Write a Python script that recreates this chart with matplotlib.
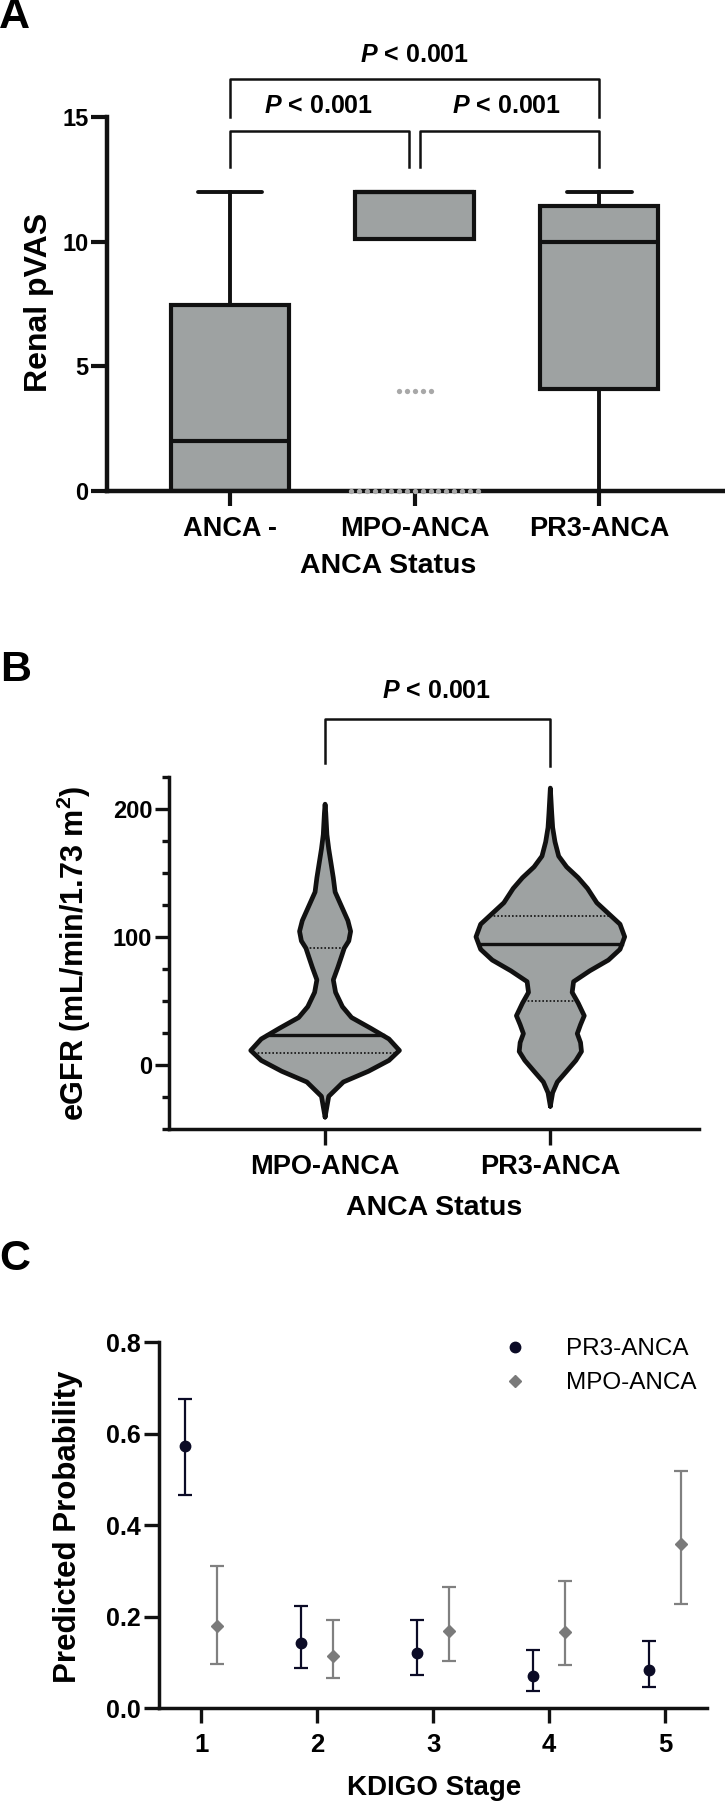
import matplotlib
matplotlib.use('Agg')
import matplotlib.pyplot as plt
from matplotlib.ticker import FixedLocator
import numpy as np

plt.rcParams['font.family'] = ['Liberation Sans', 'DejaVu Sans']
plt.rcParams['font.weight'] = 'bold'
plt.rcParams['mathtext.fontset'] = 'custom'
plt.rcParams['mathtext.rm'] = 'Liberation Sans'
plt.rcParams['mathtext.it'] = 'Liberation Sans:italic'
plt.rcParams['mathtext.bf'] = 'Liberation Sans:bold'
plt.rcParams['mathtext.bfit'] = 'Liberation Sans:italic:bold'

# ---- Panel A data: renal pVAS by ANCA status ----
groups_a = ['ANCA -', 'MPO-ANCA', 'PR3-ANCA']
a_q1 = [0, 10.1, 4.1]
a_med = [2, 12, 10]
a_q3 = [7.45, 12, 11.45]
a_low = [0, 10.1, 0]
a_high = [12, 12, 12]
mpo_outliers = [4, 4, 4, 4, 4] + [0] * 17

# ---- Panel B data: eGFR violins (outline) ----
groups_b = ['MPO-ANCA', 'PR3-ANCA']
mpo_y = [-41, -24.7, -13.5, -5.1, 3.4, 11.2, 20.2, 28.6, 37.0, 45.5, 56.7, 66.5,
         76.3, 84.8, 91.3, 97, 104.5, 112.9, 124.1, 135.3, 146.5, 157.8, 169, 180.3, 197.1, 204.1]
mpo_w = [0, 8, 40, 95, 140, 163, 140, 100, 58, 38, 23, 18,
         28, 36, 42, 52, 56, 50, 36, 22, 18, 13, 8, 4, 1.5, 0]
pr3_y = [-32.5, -21.9, -13.5, -5.1, 3.4, 10.4, 17.4, 24.4, 31.4, 38.4, 48.3, 56.7, 65.1,
         73.6, 82, 90.4, 100.2, 110.1, 118.5, 126.9, 138.1, 146.5, 155, 163.4, 174.6, 185.8, 197.1, 216.7]
pr3_w = [0, 5, 15, 35, 55, 67, 65, 58, 65, 73, 60, 47, 50,
         85, 125, 150, 160, 150, 125, 100, 80, 60, 35, 18, 10, 5, 3, 0]
b_med = [23, 94.6]
b_q1 = [9, 50]
b_q3 = [91.3, 116.5]

# ---- Panel C data: predicted probability by KDIGO stage ----
stages = [1, 2, 3, 4, 5]
pr3_prob = [0.573, 0.143, 0.121, 0.071, 0.084]
pr3_lo = [0.466, 0.089, 0.074, 0.037, 0.047]
pr3_hi = [0.675, 0.223, 0.193, 0.128, 0.147]
mpo_prob = [0.180, 0.114, 0.169, 0.167, 0.359]
mpo_lo = [0.097, 0.066, 0.104, 0.095, 0.227]
mpo_hi = [0.311, 0.193, 0.265, 0.278, 0.518]

box_gray = '#9ea2a2'
ink = '#111111'
W, H = 725, 1803

fig = plt.figure(figsize=(W / 100, H / 100), dpi=100)


def axes_px(left, top, right, bottom):
    return fig.add_axes([left / W, 1 - bottom / H, (right - left) / W, (bottom - top) / H])


def style_axes(ax, lw):
    for s in ['top', 'right']:
        ax.spines[s].set_visible(False)
    for s in ['left', 'bottom']:
        ax.spines[s].set_linewidth(lw)
        ax.spines[s].set_color(ink)
        ax.spines[s].set_capstyle('projecting')


# ================= Panel A =================
ax = axes_px(107, 117, 725, 491)
stats = []
for i in range(3):
    stats.append(dict(med=a_med[i], q1=a_q1[i], q3=a_q3[i], whislo=a_low[i], whishi=a_high[i]))
ax.bxp(stats, positions=[0, 1, 2], widths=0.64, patch_artist=True, showfliers=False,
       capwidths=0.35,
       boxprops=dict(facecolor=box_gray, edgecolor=ink, linewidth=3.0),
       medianprops=dict(color=ink, linewidth=3.0),
       whiskerprops=dict(color=ink, linewidth=2.8),
       capprops=dict(color=ink, linewidth=2.8, solid_capstyle='round'))

# outliers drawn spread sideways, like the original
vals, counts = np.unique(mpo_outliers, return_counts=True)
for v, n in zip(vals, counts):
    xs = 1 + (np.arange(n) - (n - 1) / 2) * 0.043
    ax.plot(xs, [v] * n, 'o', color='#a8a8a8', markersize=3.8, markeredgewidth=0,
            clip_on=False, zorder=5)

ax.set_xlim(-0.665, 2.68)
ax.set_ylim(0, 15)
ax.set_yticks([0, 5, 10, 15])
ax.set_xticks([0, 1, 2])
ax.set_xticklabels(groups_a, fontsize=19.5, fontweight='bold')
ax.tick_params(axis='y', length=11.5, width=3.0, labelsize=17, pad=2, color=ink)
ax.tick_params(axis='x', length=11, width=3.0, pad=7, color=ink)
style_axes(ax, 3.2)

# significance brackets
blw = 1.8
ax.plot([0, 0, 0.97, 0.97], [13, 14.45, 14.45, 13], color=ink, lw=blw, clip_on=False)
ax.plot([1.03, 1.03, 2, 2], [13, 14.45, 14.45, 13], color=ink, lw=blw, clip_on=False)
ax.plot([0, 0, 2, 2], [15, 16.53, 16.53, 15], color=ink, lw=blw, clip_on=False)
ptxt = r'$\mathbfit{P}$ < 0.001'
ax.text(0.478, 15.45, ptxt, ha='center', va='center', fontsize=18, fontweight='bold')
ax.text(1.50, 15.45, ptxt, ha='center', va='center', fontsize=18, fontweight='bold')
ax.text(0.997, 17.5, ptxt, ha='center', va='center', fontsize=18, fontweight='bold')

fig.text(39 / W, 1 - 302 / H, 'Renal pVAS', rotation=90, ha='center', va='center',
         fontsize=23, fontweight='bold')
fig.text(388 / W, 1 - 566 / H, 'ANCA Status', ha='center', va='center',
         fontsize=20.5, fontweight='bold')
fig.text(14 / W, 1 - 17 / H, 'A', ha='center', va='center', fontsize=31, fontweight='bold')

# ================= Panel B =================
ax = axes_px(169, 777.5, 699, 1128.6)
max_half = 0.33
profiles = [(np.array(mpo_y), np.array(mpo_w) / max(mpo_w)),
            (np.array(pr3_y), np.array(pr3_w) / max(pr3_w))]
for i, (yy, dd) in enumerate(profiles):
    hw = dd * max_half
    ax.fill_betweenx(yy, i - hw, i + hw, facecolor=box_gray, edgecolor='none', zorder=2)
    ax.plot(np.concatenate([i - hw, (i + hw)[::-1]]), np.concatenate([yy, yy[::-1]]),
            color=ink, lw=3.4, solid_joinstyle='round', solid_capstyle='round',
            zorder=4, clip_on=False)
    m = np.interp(b_med[i], yy, hw)
    ax.plot([i - m, i + m], [b_med[i]] * 2, color=ink, lw=2.4, zorder=3)
    for q in (b_q1[i], b_q3[i]):
        qw = np.interp(q, yy, hw)
        ax.plot([i - qw, i + qw], [q] * 2, color=ink, lw=1.2, ls=(0, (1, 1.2)), zorder=3)

ax.set_xlim(-0.693, 1.66)
ax.set_ylim(-50, 225)
ax.set_yticks([0, 100, 200])
ax.yaxis.set_minor_locator(FixedLocator([-50, -25, 25, 50, 75, 125, 150, 175, 225]))
ax.set_xticks([0, 1])
ax.set_xticklabels(groups_b, fontsize=19.5, fontweight='bold')
ax.tick_params(axis='y', which='major', length=10, width=2.4, labelsize=17, pad=2, color=ink)
ax.tick_params(axis='y', which='minor', length=5, width=2.4, color=ink)
ax.tick_params(axis='x', length=11.5, width=2.4, pad=7, color=ink)
style_axes(ax, 2.5)

ax.plot([0, 0, 1, 1], [236, 270.7, 270.7, 234], color=ink, lw=blw, clip_on=False)
ax.text(0.496, 292.6, ptxt, ha='center', va='center', fontsize=18, fontweight='bold')

fig.text(74 / W, 1 - 953 / H, r'eGFR (mL/min/1.73 m$^{\mathbf{2}}$)', rotation=90,
         ha='center', va='center', fontsize=22, fontweight='bold')
fig.text(434 / W, 1 - 1208 / H, 'ANCA Status', ha='center', va='center',
         fontsize=20.5, fontweight='bold')
fig.text(16 / W, 1 - 670 / H, 'B', ha='center', va='center', fontsize=31, fontweight='bold')

# ================= Panel C =================
ax = axes_px(158.6, 1342, 707, 1708.4)
x = np.array(stages, dtype=float)
p = np.array(pr3_prob)
m = np.array(mpo_prob)
ax.errorbar(x - 0.14, p, yerr=[p - np.array(pr3_lo), np.array(pr3_hi) - p], fmt='o',
            color='#0b0b26', ecolor='#0b0b26', elinewidth=1.6, capsize=4.7, capthick=1.6,
            markersize=7.5, label='PR3-ANCA', clip_on=False)
ax.errorbar(x + 0.14, m, yerr=[m - np.array(mpo_lo), np.array(mpo_hi) - m], fmt='D',
            color='#7a7a7a', ecolor='#808080', elinewidth=1.6, capsize=4.7, capthick=1.6,
            markersize=6.5, label='MPO-ANCA', clip_on=False)

ax.set_xlim(0.634, 5.36)
ax.set_ylim(0, 0.8)
ax.set_yticks([0, 0.2, 0.4, 0.6, 0.8])
ax.set_yticklabels(['0.0', '0.2', '0.4', '0.6', '0.8'])
ax.set_xticks(stages)
ax.tick_params(axis='y', length=10.5, width=2.4, labelsize=18, pad=2, color=ink)
ax.tick_params(axis='x', length=11, width=2.4, labelsize=18.5, pad=7, color=ink)
style_axes(ax, 2.5)

h, l = ax.get_legend_handles_labels()
h = [hh[0] for hh in h]
leg = ax.legend(h, l, loc='upper right', bbox_to_anchor=(1.02, 1.07), frameon=False,
                prop=dict(family='Liberation Sans', weight='normal', size=17.5),
                handlelength=1.0, handletextpad=1.6, labelspacing=0.5)

fig.text(68 / W, 1 - 1527 / H, 'Predicted Probability', rotation=90, ha='center',
         va='center', fontsize=22.5, fontweight='bold')
fig.text(434.6 / W, 1 - 1788 / H, 'KDIGO Stage', ha='center', va='center',
         fontsize=20, fontweight='bold')
fig.text(15 / W, 1 - 1259.5 / H, 'C', ha='center', va='center', fontsize=31, fontweight='bold')

fig.savefig('out.png', dpi=100)
